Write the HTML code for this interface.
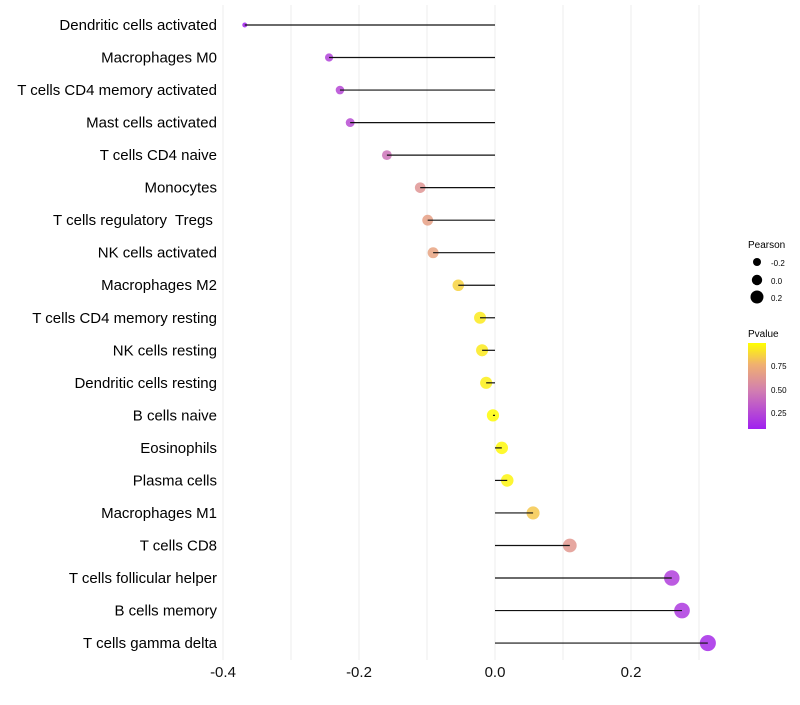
<!DOCTYPE html>
<html><head><meta charset="utf-8"><style>
body{margin:0;background:#fff;font-family:"Liberation Sans",sans-serif;}
</style></head><body>
<svg id="chart" width="800" height="700" xmlns="http://www.w3.org/2000/svg" font-family="Liberation Sans, sans-serif">
<defs><linearGradient id="pg" x1="0" y1="1" x2="0" y2="0">
<stop offset="0" stop-color="#a020f0"/><stop offset="0.45" stop-color="#d27fb0"/><stop offset="0.75" stop-color="#f0b070"/><stop offset="1" stop-color="#ffff00"/></linearGradient></defs>
<g id="grid"></g><g id="points"></g><g id="marks"></g><g id="labels"></g>
<g>
<text x="748" y="248" font-size="10">Pearson</text>
<circle cx="757" cy="262" r="4" fill="#000"/><text x="771" y="266" font-size="8">-0.2</text>
<circle cx="757" cy="280" r="5.2" fill="#000"/><text x="771" y="284" font-size="8">0.0</text>
<circle cx="757" cy="297" r="6.5" fill="#000"/><text x="771" y="301" font-size="8">0.2</text>
<text x="748" y="337" font-size="10">Pvalue</text>
<rect x="748" y="343" width="18" height="86" fill="url(#pg)"/>
<text x="771" y="369" font-size="8">0.75</text><text x="771" y="393" font-size="8">0.50</text><text x="771" y="416" font-size="8">0.25</text>
</g>
</svg>
<script>
const cats=["Dendritic cells activated","Macrophages M0","T cells CD4 memory activated","Mast cells activated","T cells CD4 naive","Monocytes","T cells regulatory  Tregs ","NK cells activated","Macrophages M2","T cells CD4 memory resting","NK cells resting","Dendritic cells resting","B cells naive","Eosinophils","Plasma cells","Macrophages M1","T cells CD8","T cells follicular helper","B cells memory","T cells gamma delta"];
const pearson=[-0.368,-0.244,-0.228,-0.213,-0.159,-0.110,-0.099,-0.091,-0.054,-0.022,-0.019,-0.013,-0.003,0.010,0.018,0.056,0.110,0.260,0.275,0.313];
const pvals=[0.10,0.24,0.26,0.28,0.45,0.62,0.68,0.70,0.87,0.94,0.94,0.95,0.99,0.98,0.97,0.84,0.64,0.22,0.20,0.14];
const ticks=[-0.4,-0.2,0.0,0.2];
const ns="http://www.w3.org/2000/svg";
const X=v=>495+v*680, Y=i=>25+i*32.53;
function mk(t,a,p){const e=document.createElementNS(ns,t);for(const k in a)e.setAttribute(k,a[k]);document.getElementById(p).appendChild(e);return e;}
function lerp(a,b,t){return a.map((v,i)=>Math.round(v+(b[i]-v)*t));}
function col(p){const s=[[0.09,[160,32,240]],[0.5,[210,127,176]],[0.77,[240,176,112]],[1,[255,255,0]]];
for(let i=0;i<s.length-1;i++){if(p<=s[i+1][0]){const t=Math.max(0,(p-s[i][0])/(s[i+1][0]-s[i][0]));return "rgb("+lerp(s[i][1],s[i+1][1],t)+")";}}return "rgb(255,255,0)";}
for(let v=-0.4;v<=0.31;v+=0.1){const g=mk('line',{x1:X(v),x2:X(v),y1:5,y2:660,stroke:'#ececec','stroke-width':1},'grid');

}
ticks.forEach(t=>{const e=mk('text',{x:X(t),y:677,'font-size':15,'text-anchor':'middle',fill:'#111'},'labels');e.textContent=t.toFixed(1);

});
cats.forEach((c,i)=>{const y=Y(i);
const t=mk('text',{x:217,y:y+5,'font-size':15,'text-anchor':'end',fill:'#000'},'labels');t.textContent=c;
t.setAttribute('xml:space','preserve');
t.style.whiteSpace='pre';


const r=Math.sqrt(6+86*(pearson[i]+0.37));
const d=mk('circle',{cx:X(pearson[i]),cy:y,r:r,fill:col(pvals[i]),'fill-opacity':0.85},'points');


const l=mk('line',{x1:X(0),x2:X(pearson[i]),y1:y,y2:y,stroke:'#111','stroke-width':1.2},'marks');


});
</script>
</body></html>
